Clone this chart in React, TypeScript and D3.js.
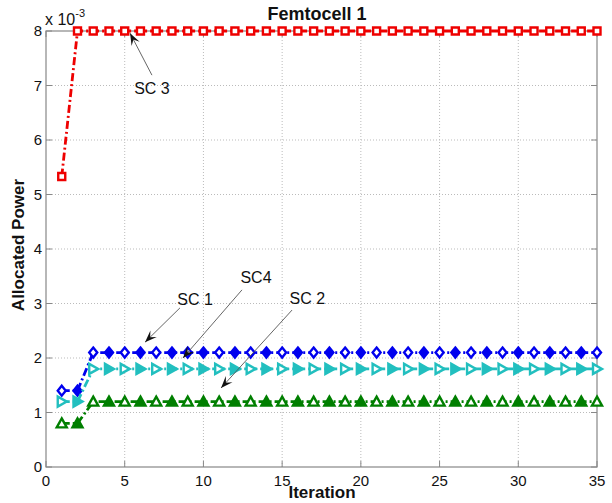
import React, { useEffect, useRef } from 'react';
import * as d3 from 'd3';

// iteration index (x axis)
const iterations = [
  1, 2, 3, 4, 5, 6, 7, 8, 9, 10,
  11, 12, 13, 14, 15, 16, 17, 18, 19, 20,
  21, 22, 23, 24, 25, 26, 27, 28, 29, 30,
  31, 32, 33, 34, 35,
];

// allocated power, in units of 1e-3
const sc3 = [
  5.33, 8, 8, 8, 8, 8, 8, 8, 8, 8,
  8, 8, 8, 8, 8, 8, 8, 8, 8, 8,
  8, 8, 8, 8, 8, 8, 8, 8, 8, 8,
  8, 8, 8, 8, 8,
];
const sc1 = [
  1.4, 1.4, 2.1, 2.1, 2.1, 2.1, 2.1, 2.1, 2.1, 2.1,
  2.1, 2.1, 2.1, 2.1, 2.1, 2.1, 2.1, 2.1, 2.1, 2.1,
  2.1, 2.1, 2.1, 2.1, 2.1, 2.1, 2.1, 2.1, 2.1, 2.1,
  2.1, 2.1, 2.1, 2.1, 2.1,
];
const sc4 = [
  1.2, 1.2, 1.8, 1.8, 1.8, 1.8, 1.8, 1.8, 1.8, 1.8,
  1.8, 1.8, 1.8, 1.8, 1.8, 1.8, 1.8, 1.8, 1.8, 1.8,
  1.8, 1.8, 1.8, 1.8, 1.8, 1.8, 1.8, 1.8, 1.8, 1.8,
  1.8, 1.8, 1.8, 1.8, 1.8,
];
const sc2 = [
  0.8, 0.8, 1.2, 1.2, 1.2, 1.2, 1.2, 1.2, 1.2, 1.2,
  1.2, 1.2, 1.2, 1.2, 1.2, 1.2, 1.2, 1.2, 1.2, 1.2,
  1.2, 1.2, 1.2, 1.2, 1.2, 1.2, 1.2, 1.2, 1.2, 1.2,
  1.2, 1.2, 1.2, 1.2, 1.2,
];

const xTicks = [0, 5, 10, 15, 20, 25, 30, 35];
const yTicks = [0, 1, 2, 3, 4, 5, 6, 7, 8];

// annotation labels: text point, arrow tail, arrow tip (data units)
const annLabels = ['SC 3', 'SC 1', 'SC4', 'SC 2'];
const annText = [[6.73, 6.95], [9.47, 3.08], [13.34, 3.49], [16.6, 3.1]];
const annTail = [[6.73, 7.19], [8.51, 2.92], [12.45, 3.25], [15.63, 2.88]];
const annTip = [[5.34, 7.96], [6.29, 2.29], [8.7, 2.0], [11.12, 1.45]];

const FONT = 'Arial, "Liberation Sans", sans-serif';

const App = () => {
  const svgRef = useRef<SVGSVGElement>(null);

  useEffect(() => {
    const width = 612;
    const height = 503;
    const left = 46, right = 597, top = 31, bottom = 467;

    const svg = d3.select(svgRef.current);
    svg.selectAll('*').remove();
    svg.attr('width', width).attr('height', height);

    svg.append('rect').attr('width', width).attr('height', height).attr('fill', '#fff');

    const x = d3.scaleLinear().domain([0, 35]).range([left, right]);
    const y = d3.scaleLinear().domain([0, 8]).range([bottom, top]);

    // grid
    const grid = svg.append('g');
    xTicks.slice(1, -1).forEach(t => {
      grid.append('line')
        .attr('x1', x(t)).attr('x2', x(t)).attr('y1', top).attr('y2', bottom)
        .attr('stroke', '#bbb').attr('stroke-width', 1).attr('stroke-dasharray', '1,2');
    });
    yTicks.slice(1, -1).forEach(t => {
      grid.append('line')
        .attr('x1', left).attr('x2', right).attr('y1', y(t)).attr('y2', y(t))
        .attr('stroke', '#bbb').attr('stroke-width', 1).attr('stroke-dasharray', '1,2');
    });

    // box
    svg.append('rect')
      .attr('x', left).attr('y', top).attr('width', right - left).attr('height', bottom - top)
      .attr('fill', 'none').attr('stroke', '#888').attr('stroke-width', 1.2);

    // ticks
    xTicks.forEach(t => {
      svg.append('line').attr('x1', x(t)).attr('x2', x(t)).attr('y1', bottom).attr('y2', bottom - 6)
        .attr('stroke', '#888');
      svg.append('line').attr('x1', x(t)).attr('x2', x(t)).attr('y1', top).attr('y2', top + 6)
        .attr('stroke', '#888');
      svg.append('text').attr('x', x(t)).attr('y', bottom + 19)
        .attr('text-anchor', 'middle').attr('font-family', FONT).attr('font-size', '15px')
        .attr('fill', '#111').text(t);
    });
    yTicks.forEach(t => {
      svg.append('line').attr('x1', left).attr('x2', left + 6).attr('y1', y(t)).attr('y2', y(t))
        .attr('stroke', '#888');
      svg.append('line').attr('x1', right).attr('x2', right - 6).attr('y1', y(t)).attr('y2', y(t))
        .attr('stroke', '#888');
      svg.append('text').attr('x', left - 4).attr('y', y(t) + 5)
        .attr('text-anchor', 'end').attr('font-family', FONT).attr('font-size', '15px')
        .attr('fill', '#111').text(t);
    });

    // exponent
    const ex = svg.append('text').attr('x', left - 1).attr('y', 25)
      .attr('font-family', FONT).attr('font-size', '16px').attr('fill', '#111');
    ex.append('tspan').text('x 10');
    ex.append('tspan').attr('dy', -8).attr('font-size', '11px').text('-3');

    // title and axis labels
    svg.append('text').attr('x', 317).attr('y', 20).attr('text-anchor', 'middle')
      .attr('font-family', FONT).attr('font-size', '18px').attr('font-weight', 'bold')
      .attr('fill', '#111').text('Femtocell 1');
    svg.append('text').attr('x', 322).attr('y', 498).attr('text-anchor', 'middle')
      .attr('font-family', FONT).attr('font-size', '17px').attr('font-weight', 'bold')
      .attr('fill', '#111').text('Iteration');
    svg.append('text').attr('transform', `translate(24, 245) rotate(-90)`).attr('text-anchor', 'middle')
      .attr('font-family', FONT).attr('font-size', '17px').attr('font-weight', 'bold')
      .attr('fill', '#111').text('Allocated Power');

    // series
    const series = [
      { values: sc3, color: '#ee0000', marker: 'square' },
      { values: sc1, color: '#0000ee', marker: 'diamond' },
      { values: sc4, color: '#22bfbf', marker: 'right' },
      { values: sc2, color: '#007f00', marker: 'up' },
    ];

    const line = d3.line<number>()
      .x((_, i) => x(iterations[i]))
      .y(d => y(d));

    const markerPath = (type: string, cx: number, cy: number) => {
      const s = 3.5;
      if (type === 'square') return `M${cx - s},${cy - s}h${2 * s}v${2 * s}h${-2 * s}Z`;
      if (type === 'diamond') return `M${cx},${cy - 5}L${cx + 4},${cy}L${cx},${cy + 5}L${cx - 4},${cy}Z`;
      if (type === 'right') return `M${cx - 4},${cy - 5}L${cx + 5},${cy}L${cx - 4},${cy + 5}Z`;
      return `M${cx},${cy - 5}L${cx + 5},${cy + 4}L${cx - 5},${cy + 4}Z`;
    };

    series.forEach(s => {
      svg.append('path').datum(s.values).attr('d', line)
        .attr('fill', 'none').attr('stroke', s.color).attr('stroke-width', 2.8)
        .attr('stroke-dasharray', '8,3,2,3');
      s.values.forEach((v, i) => {
        const filled = s.marker !== 'square' && i % 2 === 1;
        svg.append('path').attr('d', markerPath(s.marker, x(iterations[i]), y(v)))
          .attr('fill', filled ? s.color : '#fff')
          .attr('stroke', s.color).attr('stroke-width', 2.4);
      });
    });

    // annotations
    annLabels.forEach((label, i) => {
      const [tx, ty] = annText[i];
      const [ax, ay] = annTail[i];
      const [px, py] = annTip[i];
      const x1 = x(ax), y1 = y(ay), x2 = x(px), y2 = y(py);
      svg.append('line').attr('x1', x1).attr('y1', y1).attr('x2', x2).attr('y2', y2)
        .attr('stroke', '#555').attr('stroke-width', 0.9);
      const ang = Math.atan2(y2 - y1, x2 - x1);
      const L = 12, W = 4.5;
      const bx = x2 - L * Math.cos(ang), by = y2 - L * Math.sin(ang);
      const nx = -Math.sin(ang), ny = Math.cos(ang);
      const mx = x2 - 0.6 * L * Math.cos(ang), my = y2 - 0.6 * L * Math.sin(ang);
      svg.append('path')
        .attr('d', `M${x2},${y2}L${bx + nx * W},${by + ny * W}L${mx},${my}L${bx - nx * W},${by - ny * W}Z`)
        .attr('fill', '#111');
      svg.append('text').attr('x', x(tx)).attr('y', y(ty) + 6).attr('text-anchor', 'middle')
        .attr('font-family', FONT).attr('font-size', '16px').attr('fill', '#111').text(label);
    });
  }, []);

  return (
    <div style={{ position: 'absolute', left: 0, top: 0 }}>
      <svg ref={svgRef} width={612} height={503} />
    </div>
  );
};

export default App;
